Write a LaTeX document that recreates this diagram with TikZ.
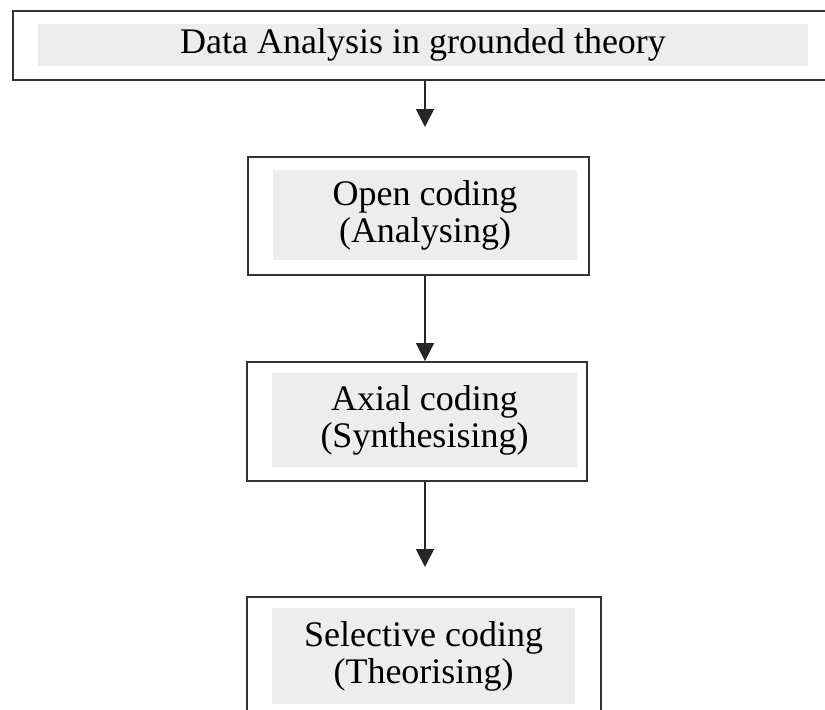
\documentclass[tikz,border=0pt]{standalone}
\usepackage{fontspec}
\setmainfont{Liberation Serif}
\usepackage{tikz}
\usetikzlibrary{arrows.meta}

\tikzset{
  boxframe/.style={draw=black!80, line width=0.9pt, inner sep=0pt},
  band/.style={fill=black!7, inner sep=0pt, align=center,
    font=\fontsize{18}{18.5}\selectfont},
  arr/.style={draw=black!85, line width=0.8pt, -{Triangle[length=9pt,width=9pt]}}
}

\begin{document}
\begin{tikzpicture}[x=0.5pt,y=-0.5pt]
\useasboundingbox (0,0) rectangle (825,709);

% top box
\node [boxframe, minimum width=418.5pt, minimum height=34.5pt] (dataframe) at (431.5,45.5) {};
\node [band, minimum width=385pt, minimum height=21pt] (data) at (423,45) {Data Analysis in grounded theory};

% open coding
\node [boxframe, minimum width=170.5pt, minimum height=59pt] (openframe) at (418.5,216) {};
\node [band, minimum width=152pt, minimum height=45pt] (open) at (425,215) {Open coding\\(Analysing)};

% axial coding
\node [boxframe, minimum width=170pt, minimum height=59.5pt] (axialframe) at (417,421.5) {};
\node [band, minimum width=152.5pt, minimum height=47pt] (axial) at (424.5,420) {Axial coding\\(Synthesising)};

% selective coding
\node [boxframe, minimum width=177pt, minimum height=64pt] (selframe) at (424,661) {};
\node [band, minimum width=151.5pt, minimum height=48pt] (sel) at (423.5,656) {Selective coding\\(Theorising)};

% arrows
\coordinate (tip1) at (425,127);
\coordinate (tip3) at (425,567);
\draw [arr] (dataframe.south -| tip1) -- (tip1);
\draw [arr] (openframe.south -| tip1) -- (axialframe.north -| tip1);
\draw [arr] (axialframe.south -| tip3) -- (tip3);
\end{tikzpicture}
\end{document}
